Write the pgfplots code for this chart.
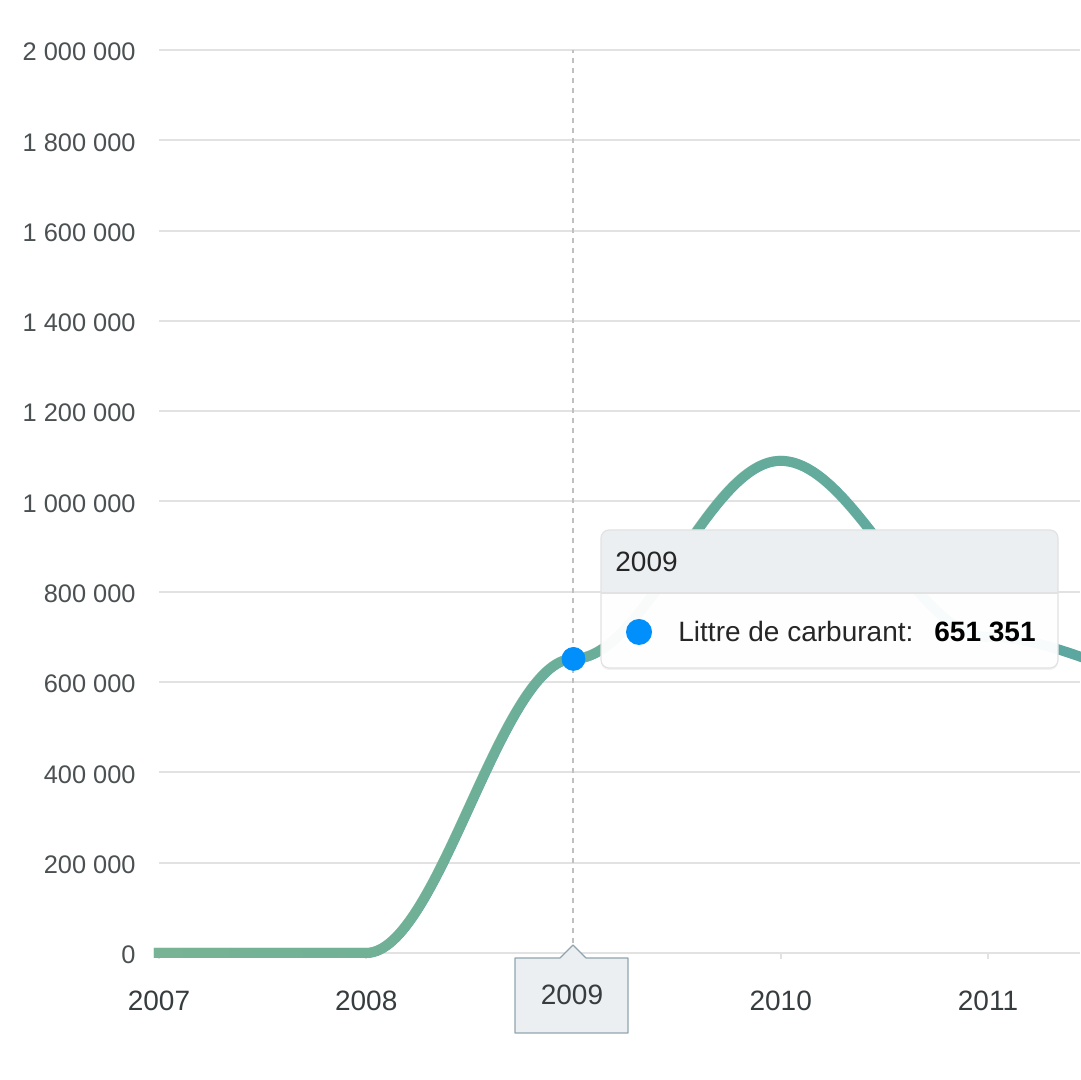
\documentclass[border=0pt]{standalone}
\usepackage{pgfplots}
\pgfplotsset{compat=1.18}
\usepackage{pgfplotstable}
\usepackage{fontspec}
\setmainfont{Liberation Sans}
\usetikzlibrary{fadings,shadows}

\definecolor{txt}{RGB}{55,61,63}
\definecolor{gridc}{RGB}{226,226,226}
\definecolor{lgreen}{RGB}{120,180,148}
\definecolor{lteal}{RGB}{88,166,162}
\definecolor{hblue}{RGB}{0,143,251}
\definecolor{ttbg}{RGB}{236,239,241}
\definecolor{ttborder}{RGB}{144,164,174}
\definecolor{crossc}{RGB}{192,192,192}

% plot handler: cubic segments with horizontal tangents at each data point
\makeatletter
\newdimen\hs@X \newdimen\hs@Y \newdimen\hs@M
\newif\ifhs@first
\def\hs@lastx{0pt}\def\hs@lasty{0pt}
\def\hs@point#1{%
  \pgf@process{#1}%
  \hs@X=\pgf@x \hs@Y=\pgf@y
  \ifhs@first
    \pgf@plot@first@action{\pgfqpoint{\hs@X}{\hs@Y}}%
    \global\hs@firstfalse
  \else
    \hs@M=\hs@X \advance\hs@M by -\hs@lastx\relax
    \hs@M=0.35\hs@M
    \pgfpathcurveto
      {\pgfqpoint{\dimexpr\hs@lastx+\hs@M\relax}{\hs@lasty}}%
      {\pgfqpoint{\dimexpr\hs@X-\hs@M\relax}{\hs@Y}}%
      {\pgfqpoint{\hs@X}{\hs@Y}}%
  \fi
  \xdef\hs@lastx{\the\hs@X}\xdef\hs@lasty{\the\hs@Y}%
}
\pgfdeclareplothandler{\pgfplothandlerhsmooth}{}{%
  start=\global\hs@firsttrue,
  point macro=\hs@point,
  jump=\global\hs@firsttrue,
}
\tikzset{hsmooth/.code={\let\tikz@plot@handler=\pgfplothandlerhsmooth}}
\makeatother

\pgfplotstableread{
year value
2007 0
2008 0
2009 651351
2010 1090000
2011 700000
2012 595000
}\fueldata

\begin{document}
\begin{tikzpicture}
\useasboundingbox (-79.5pt,-63.5pt) rectangle (460.5pt,476.5pt);
\begin{axis}[
  scale only axis, width=460.5pt, height=451.5pt,
  xmin=2007, xmax=2011.444, ymin=0, ymax=2000000,
  clip=false,
  axis line style={draw=none},
  scaled y ticks=false,
  xtick pos=bottom, ytick pos=left,
  xtick={2007,2008,2009,2010,2011},
  xticklabels={2007,2008,,2010,2011},
  ytick={0,200000,400000,600000,800000,1000000,1200000,1400000,1600000,1800000,2000000},
  yticklabels={0,200 000,400 000,600 000,800 000,1 000 000,1 200 000,1 400 000,1 600 000,1 800 000,2 000 000},
  ymajorgrids, major grid style={gridc, line width=1pt},
  tick align=outside, major tick length=3pt,
  xtick style={gridc, line width=1pt}, ytick style={draw=none},
  xticklabel style={font=\fontsize{14pt}{16pt}\selectfont, text=txt, anchor=base, inner sep=0pt, yshift=-25.5pt},
  yticklabel style={font=\fontsize{12.7pt}{15pt}\selectfont, text=txt!90, anchor=east, inner sep=0pt, xshift=-8.5pt, yshift=-1pt},
  /pgf/number format/assume math mode=true,
]
\addplot[crossc, line width=1pt, dash pattern=on 2.5pt off 2.5pt] coordinates {(2009,0) (2009,2000000)};
\addplot[hsmooth, lteal, line width=5pt, line cap=rect] table[x=year, y=value] {\fueldata};
\addplot[hsmooth, lgreen, line width=5pt, line cap=rect, path fading=east, fit fading=true] table[x=year, y=value] {\fueldata};
\addplot[only marks, mark=*, mark size=5.75pt, draw=hblue, fill=hblue] coordinates {(2009,651351)};
\end{axis}

% x-axis crosshair label
\filldraw[fill=ttbg, draw=ttborder, line width=0.6pt, line join=round]
  (178pt,-2.5pt) -- (200.5pt,-2.5pt) -- (207pt,4pt) -- (213.5pt,-2.5pt) -- (234.5pt,-2.5pt)
  -- (234.5pt,-40pt) -- (178pt,-40pt) -- cycle;
\node[anchor=base, inner sep=0pt, text=txt, font=\fontsize{14pt}{16pt}\selectfont] at (206.5pt,-26pt) {2009};

% tooltip
\fill[white, fill opacity=0.96, rounded corners=4pt,
  drop shadow={shadow xshift=0pt, shadow yshift=-1pt, opacity=0.10}]
  (221pt,142.5pt) rectangle (449.5pt,211.5pt);
\fill[ttbg, rounded corners=4pt] (221pt,180pt) rectangle (449.5pt,211.5pt);
\fill[ttbg] (221pt,180pt) rectangle (449.5pt,190pt);
\draw[gridc, line width=0.6pt] (221pt,180pt) -- (449.5pt,180pt);
\draw[gridc, line width=0.6pt, rounded corners=4pt] (221pt,142.5pt) rectangle (449.5pt,211.5pt);
\node[anchor=base west, inner sep=0pt, text=black!85, font=\fontsize{14pt}{16pt}\selectfont] at (228pt,190.5pt) {2009};
\fill[hblue] (240pt,160.5pt) circle (6.5pt);
\node[anchor=base west, inner sep=0pt, text=black!85, font=\fontsize{14pt}{16pt}\selectfont] at (259.5pt,155.5pt) {Littre de carburant:};
\node[anchor=base west, inner sep=0pt, text=black, font=\fontsize{14pt}{16pt}\selectfont\bfseries] at (387.5pt,155.5pt) {651 351};
\end{tikzpicture}
\end{document}
